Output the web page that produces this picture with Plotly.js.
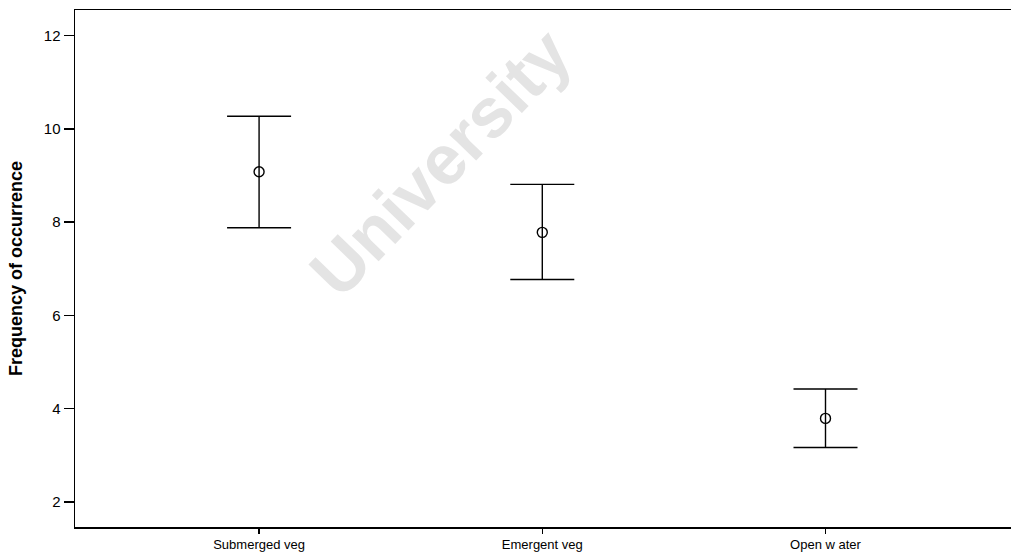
<!DOCTYPE html>
<html>
<head>
<meta charset="utf-8">
<script src="https://cdn.plot.ly/plotly-3.0.1.min.js"></script>
<style>html,body{margin:0;padding:0;background:#fff;}#chart{width:1011px;height:554px;}</style>
</head>
<body>
<div id="chart"></div>
<script>
var categories = ['Submerged veg', 'Emergent veg', 'Open w ater'];
var means = [9.08, 7.78, 3.79];
var upperCI = [10.27, 8.81, 4.42];
var lowerCI = [7.88, 6.77, 3.165];
var yTicks = [2, 4, 6, 8, 10, 12];

var errPlus = means.map(function (m, i) { return upperCI[i] - m; });
var errMinus = means.map(function (m, i) { return m - lowerCI[i]; });

var FONT = 'Arial, "Liberation Sans", Helvetica, sans-serif';

var trace = {
  type: 'scatter',
  mode: 'markers',
  x: categories,
  y: means,
  marker: { symbol: 'circle-open', size: 10, color: '#000', line: { color: '#000', width: 1.4 } },
  error_y: {
    type: 'data', symmetric: false,
    array: errPlus, arrayminus: errMinus,
    color: '#000', thickness: 1.4, width: 32
  },
  hoverinfo: 'skip',
  showlegend: false
};

var layout = {
  width: 1011, height: 554,
  margin: { l: 75, r: 0, t: 10, b: 27 },
  paper_bgcolor: '#fff', plot_bgcolor: '#fff',
  font: { family: FONT, color: '#000', size: 14 },
  xaxis: {
    type: 'category',
    range: [-0.65, 2.655],
    showline: true, linecolor: '#000', linewidth: 1.5, mirror: true,
    ticks: 'outside', ticklen: 5, tickcolor: '#000', tickwidth: 1.4,
    showgrid: false, zeroline: false,
    tickfont: { family: FONT, size: 13, color: '#000' }
  },
  yaxis: {
    range: [1.46, 12.55],
    tickvals: yTicks,
    ticktext: yTicks.map(String),
    showline: true, linecolor: '#000', linewidth: 1.5, mirror: false,
    ticks: 'outside', ticklen: 10, tickcolor: '#000', tickwidth: 1.5,
    showgrid: false, zeroline: false,
    tickfont: { family: FONT, size: 15, color: '#000' },
    title: { text: '<b>Frequency of occurrence</b>', font: { family: FONT, size: 18, color: '#000' }, standoff: 16 }
  },
  annotations: [{
    text: '<b>University</b>',
    xref: 'paper', yref: 'paper',
    x: 0.39, y: 0.705,
    xanchor: 'center', yanchor: 'middle',
    showarrow: false,
    textangle: -46,
    font: { family: FONT, size: 70, color: '#e4e4e4' }
  }]
};

Plotly.newPlot('chart', [trace], layout, { displayModeBar: false, staticPlot: true });
</script>
</body>
</html>
